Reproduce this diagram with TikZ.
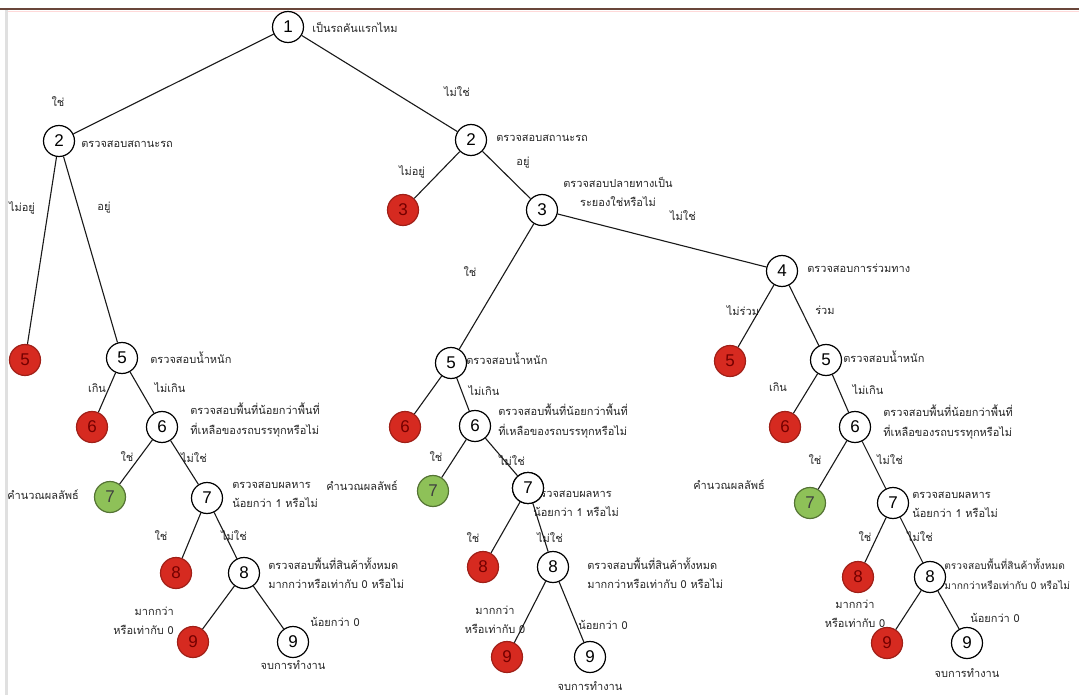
\documentclass[tikz,border=0pt]{standalone}
\usepackage{fontspec}
\setmainfont{Liberation Sans}
\newfontfamily\thaifont[Script=Thai]{Loma}
\usetikzlibrary{positioning}

\definecolor{stopred}{RGB}{214,42,32}
\definecolor{okgreen}{RGB}{142,193,88}
\definecolor{rimbrown}{RGB}{105,70,58}

\begin{document}
\begin{tikzpicture}[
    x=1pt, y=-1pt,
    state/.style={circle, draw=black, line width=1.2pt, fill=white, minimum size=31pt, inner sep=0pt, font=\fontsize{17}{17}\selectfont},
    stopstate/.style={state, fill=stopred, draw=stopred!75!black, text=red!45!black},
    okstate/.style={state, fill=okgreen, draw=okgreen!60!black, text=black!75},
    note/.style={font=\thaifont\fontsize{11}{19.5}\selectfont, align=left, inner sep=1pt, text=black!85},
    link/.style={line width=1.1pt, black!90}
]

% Page frame
\useasboundingbox (0,0) rectangle (1079,695);
\fill[black!12] (5,10) rectangle (8,695);
\draw[rimbrown, line width=1.2pt] (0,9) -- (1079,9);
\draw[red!15, line width=0.8pt] (8,11) -- (1079,11);

% Root
\node[state] (n1) at (288,27) {1};
\node[note, right=7pt of n1] (d1) {เป็นรถคันแรกไหม};

% Left branch
\node[state] (n2L) at (59,141) {2};
\node[note, right=5pt of n2L, yshift=-3pt] (d2L) {ตรวจสอบสถานะรถ};
\node[stopstate] (n5Lr) at (25,360) {5};
\node[state] (n5L) at (122,358) {5};
\node[note, right=11pt of n5L] (d5L) {ตรวจสอบน้ำหนัก};
\node[stopstate] (n6Lr) at (92,427) {6};
\node[state] (n6L) at (162,427) {6};
\node[note, right=11pt of n6L, yshift=7pt] (d6L) {ตรวจสอบพื้นที่น้อยกว่าพื้นที่\\ที่เหลือของรถบรรทุกหรือไม่};
\node[okstate] (n7Lg) at (110,497) {7};
\node[note, left=14pt of n7Lg, yshift=2pt] (c7L) {คำนวณผลลัพธ์};
\node[state] (n7L) at (207,498) {7};
\node[note, right=8pt of n7L, yshift=3pt] (d7L) {ตรวจสอบผลหาร\\น้อยกว่า 1 หรือไม่};
\node[stopstate] (n8Lr) at (176,573) {8};
\node[state] (n8L) at (244,573) {8};
\node[note, right=7pt of n8L] (d8L) {ตรวจสอบพื้นที่สินค้าทั้งหมด\\มากกว่าหรือเท่ากับ 0 หรือไม่};
\node[stopstate] (n9Lr) at (193,642) {9};
\node[state] (n9L) at (293,642) {9};
\node[note, below=1pt of n9L] (d9L) {จบการทำงาน};

% Right branch
\node[state] (n2R) at (471,140) {2};
\node[note, right=8pt of n2R, yshift=2pt] (d2R) {ตรวจสอบสถานะรถ};
\node[stopstate] (n3r) at (403,210) {3};
\node[state] (n3) at (542,210) {3};
\node[note, right=4pt of n3, yshift=18pt, align=center] (d3) {ตรวจสอบปลายทางเป็น\\ระยองใช่หรือไม่};

% Rayong side
\node[state] (n5M) at (451,363) {5};
\node[note, right=-2pt of n5M, yshift=4pt] (d5M) {ตรวจสอบน้ำหนัก};
\node[stopstate] (n6Mr) at (405,427) {6};
\node[state] (n6M) at (475,426) {6};
\node[note, right=6pt of n6M, yshift=5pt] (d6M) {ตรวจสอบพื้นที่น้อยกว่าพื้นที่\\ที่เหลือของรถบรรทุกหรือไม่};
\node[okstate] (n7Mg) at (433,491) {7};
\node[note, left=18pt of n7Mg, yshift=5pt] (c7M) {คำนวณผลลัพธ์};
\node[state] (n7M) at (528,488) {7};
\node[note, right=-12pt of n7M, yshift=-16pt] (d7M) {ตรวจสอบผลหาร\\น้อยกว่า 1 หรือไม่};
\node[stopstate] (n8Mr) at (483,567) {8};
\node[state] (n8M) at (553,567) {8};
\node[note, right=17pt of n8M, yshift=-6pt] (d8M) {ตรวจสอบพื้นที่สินค้าทั้งหมด\\มากกว่าหรือเท่ากับ 0 หรือไม่};
\node[stopstate] (n9Mr) at (507,657) {9};
\node[state] (n9M) at (590,657) {9};
\node[note, below=7pt of n9M] (d9M) {จบการทำงาน};

% Shared route side
\node[state] (n4) at (782,271) {4};
\node[note, right=8pt of n4, yshift=3pt] (d4) {ตรวจสอบการร่วมทาง};
\node[stopstate] (n5Rr) at (730,361) {5};
\node[state] (n5R) at (826,360) {5};
\node[note, right=0pt of n5R, yshift=3pt] (d5R) {ตรวจสอบน้ำหนัก};
\node[stopstate] (n6Rr) at (785,427) {6};
\node[state] (n6R) at (855,427) {6};
\node[note, right=11pt of n6R, yshift=5pt] (d6R) {ตรวจสอบพื้นที่น้อยกว่าพื้นที่\\ที่เหลือของรถบรรทุกหรือไม่};
\node[okstate] (n7Rg) at (810,503) {7};
\node[note, left=28pt of n7Rg, yshift=18pt] (c7R) {คำนวณผลลัพธ์};
\node[state] (n7R) at (893,503) {7};
\node[note, right=2pt of n7R, yshift=-2pt] (d7R) {ตรวจสอบผลหาร\\น้อยกว่า 1 หรือไม่};
\node[stopstate] (n8Rr) at (858,577) {8};
\node[state] (n8R) at (930,577) {8};
\node[note, font=\thaifont\fontsize{10.2}{19.5}\selectfont, right=-3pt of n8R, yshift=3pt] (d8R) {ตรวจสอบพื้นที่สินค้าทั้งหมด\\มากกว่าหรือเท่ากับ 0 หรือไม่};
\node[stopstate] (n9Rr) at (887,643) {9};
\node[state] (n9R) at (967,643) {9};
\node[note, below=8pt of n9R] (d9R) {จบการทำงาน};

% Edge labels
\node[note] (e1L) at (58,102) {ใช่};
\node[note] (e1R) at (457,92) {ไม่ใช่};
\node[note] (e2La) at (22,208) {ไม่อยู่};
\node[note] (e2Lb) at (104,208) {อยู่};
\node[note] (e5La) at (97,388) {เกิน};
\node[note] (e5Lb) at (170,388) {ไม่เกิน};
\node[note] (e6La) at (127,457) {ใช่};
\node[note] (e6Lb) at (194,458) {ไม่ใช่};
\node[note] (e7La) at (161,536) {ใช่};
\node[note] (e7Lb) at (234,536) {ไม่ใช่};
\node[note, align=right, anchor=east] (e8La) at (175,621) {มากกว่า\\หรือเท่ากับ 0};
\node[note] (e8Lb) at (335,622) {น้อยกว่า 0};
\node[note] (e2Ra) at (412,172) {ไม่อยู่};
\node[note] (e2Rb) at (523,163) {อยู่};
\node[note] (e3a) at (470,272) {ใช่};
\node[note] (e3b) at (683,216) {ไม่ใช่};
\node[note] (e5Mb) at (484,391) {ไม่เกิน};
\node[note] (e6Ma) at (436,457) {ใช่};
\node[note] (e6Mb) at (512,461) {ไม่ใช่};
\node[note] (e7Ma) at (473,538) {ใช่};
\node[note] (e7Mb) at (550,538) {ไม่ใช่};
\node[note, align=center] (e8Ma) at (495,620) {มากกว่า\\หรือเท่ากับ 0};
\node[note] (e8Mb) at (603,625) {น้อยกว่า 0};
\node[note] (e4a) at (743,311) {ไม่ร่วม};
\node[note] (e4b) at (825,310) {ร่วม};
\node[note] (e5Ra) at (778,387) {เกิน};
\node[note] (e5Rb) at (868,390) {ไม่เกิน};
\node[note] (e6Ra) at (815,460) {ใช่};
\node[note] (e6Rb) at (890,460) {ไม่ใช่};
\node[note] (e7Ra) at (865,537) {ใช่};
\node[note] (e7Rb) at (920,537) {ไม่ใช่};
\node[note, align=center] (e8Ra) at (855,614) {มากกว่า\\หรือเท่ากับ 0};
\node[note] (e8Rb) at (995,618) {น้อยกว่า 0};

% Redraw the circle that sits over its own text
\node[state] at (n7M) {7};

% Connections
\draw[link] (n1) -- (n2L);
\draw[link] (n1) -- (n2R);
\draw[link] (n2L) -- (n5Lr);
\draw[link] (n2L) -- (n5L);
\draw[link] (n5L) -- (n6Lr);
\draw[link] (n5L) -- (n6L);
\draw[link] (n6L) -- (n7Lg);
\draw[link] (n6L) -- (n7L);
\draw[link] (n7L) -- (n8Lr);
\draw[link] (n7L) -- (n8L);
\draw[link] (n8L) -- (n9Lr);
\draw[link] (n8L) -- (n9L);
\draw[link] (n2R) -- (n3r);
\draw[link] (n2R) -- (n3);
\draw[link] (n3) -- (n5M);
\draw[link] (n3) -- (n4);
\draw[link] (n5M) -- (n6Mr);
\draw[link] (n5M) -- (n6M);
\draw[link] (n6M) -- (n7Mg);
\draw[link] (n6M) -- (n7M);
\draw[link] (n7M) -- (n8Mr);
\draw[link] (n7M) -- (n8M);
\draw[link] (n8M) -- (n9Mr);
\draw[link] (n8M) -- (n9M);
\draw[link] (n4) -- (n5Rr);
\draw[link] (n4) -- (n5R);
\draw[link] (n5R) -- (n6Rr);
\draw[link] (n5R) -- (n6R);
\draw[link] (n6R) -- (n7Rg);
\draw[link] (n6R) -- (n7R);
\draw[link] (n7R) -- (n8Rr);
\draw[link] (n7R) -- (n8R);
\draw[link] (n8R) -- (n9Rr);
\draw[link] (n8R) -- (n9R);

\end{tikzpicture}
\end{document}
